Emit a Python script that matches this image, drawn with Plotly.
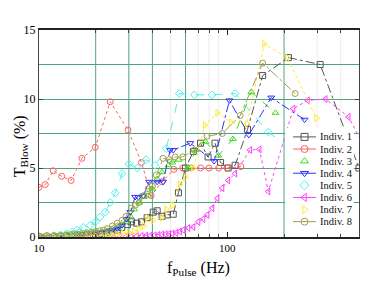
import plotly.graph_objects as go

# ---------------- data ----------------
series_names = ["Indiv. 1", "Indiv. 2", "Indiv. 3", "Indiv. 4",
                "Indiv. 5", "Indiv. 6", "Indiv. 7", "Indiv. 8"]

x1 = [10, 11, 12, 13, 14, 15, 16, 17, 18, 19, 20, 21.5, 23, 24.5, 26, 27.5, 29.5, 31, 33, 35,
      37.5, 40.4, 42.4, 45, 48, 51.6, 55, 60, 66, 72, 79, 86, 92, 101, 110, 128, 154, 211, 311, 500]
y1 = [0, 0, 0, 0.02, 0.05, 0.05, 0.1, 0.1, 0.15, 0.15, 0.2, 0.25, 0.3, 0.4, 0.5, 0.7, 0.9, 1.1, 1.0, 1.1,
      1.4, 1.8, 1.9, 1.5, 1.6, 1.65, 3.2, 5.0, 6.2, 6.8, 5.8, 6.8, 5.4, 5.0, 5.2, 7.8, 11.7, 13.0, 12.5, 5.0]

x2 = [10, 10.8, 11.9, 13.2, 14.8, 16.9, 19.9, 23.9, 29.7, 35, 39.4, 45, 52, 58, 64, 72, 80, 90, 100, 118]
y2 = [3.6, 3.8, 4.8, 4.4, 4.1, 5.7, 6.5, 9.8, 7.75, 5.4, 3.0, 4.0, 4.9, 5.0, 5.0, 5.0, 5.0, 5.0, 5.0, 5.1]

x3 = [10, 11, 12, 13, 14, 15, 16, 17, 18, 19, 20, 21.5, 23, 24.5, 26, 27.5, 29, 30.5, 32, 34, 36, 38,
      40, 42.4, 45, 48.6, 51, 55, 62, 68, 76.5, 89.7, 107, 134, 180]
y3 = [0.1, 0.1, 0.1, 0.12, 0.15, 0.15, 0.2, 0.2, 0.25, 0.3, 0.35, 0.4, 0.45, 0.55, 0.7, 0.9, 1.1, 1.5,
      2.0, 2.5, 2.9, 3.0, 3.5, 4.2, 4.7, 5.2, 5.4, 5.6, 5.0, 6.3, 6.9, 5.9, 7.1, 10.5, 9.0]

x4 = [10, 11, 12, 13, 14, 15, 16, 17, 18, 19, 20, 21.5, 23, 24.5, 26, 27.6, 29, 30.5, 32.4, 33.7, 35.8,
      38.4, 42.4, 45.6, 49.7, 51.6, 63.5, 85, 102.6, 130, 171, 257]
y4 = [0, 0, 0.02, 0.03, 0.05, 0.05, 0.08, 0.1, 0.12, 0.15, 0.2, 0.3, 0.4, 0.5, 0.6, 0.85, 1.3, 1.8, 2.9,
      2.9, 3.0, 4.0, 4.0, 4.0, 6.3, 6.3, 6.8, 5.5, 9.9, 7.4, 10.1, 8.5]

x5 = [10, 11, 12, 13, 14, 15, 15.9, 17.2, 18.7, 20, 21.1, 22.5, 23.9, 25.4, 27.6, 30, 33.3, 37, 41.3,
      47.4, 55.6, 66.9, 83, 110, 165, 208]
y5 = [0, 0.05, 0.1, 0.15, 0.25, 0.35, 0.5, 0.7, 0.85, 1.1, 1.45, 1.8, 2.5, 3.2, 4.6, 5.3, 5.0, 5.6, 5.2,
      6.4, 10.4, 10.3, 10.3, 10.4, 7.6, 6.6]

x6 = [25, 27, 29, 31, 33, 35, 37, 39, 41, 43, 45, 47, 49, 51, 53.5, 56, 58.3, 62, 65.9, 70.1, 74.5, 78.3,
      83.2, 88.5, 94, 101, 110, 132, 148, 165, 224, 267, 332, 440, 560]
y6 = [0, 0.02, 0.03, 0.05, 0.06, 0.08, 0.1, 0.1, 0.12, 0.15, 0.18, 0.2, 0.22, 0.25, 0.3, 0.4, 0.5, 0.65,
      0.72, 1.09, 1.3, 1.6, 2.1, 2.8, 3.55, 4.1, 4.6, 6.3, 6.35, 3.3, 9.3, 9.9, 10.0, 8.7, 6.0]

x7 = [10, 11, 12, 13, 14, 15, 16, 17, 18, 19, 20, 21.5, 23, 24.5, 26, 28, 30, 32, 34, 36, 37.6, 40.4,
      45, 47.5, 51, 56, 60, 66, 76, 88.6, 105, 127, 157, 208, 297]
y7 = [0, 0, 0, 0, 0, 0, 0.02, 0.03, 0.05, 0.05, 0.08, 0.1, 0.12, 0.15, 0.2, 0.25, 0.3, 0.4, 0.6, 0.8,
      1.4, 1.2, 1.4, 2.0, 2.3, 3.8, 4.3, 5.0, 8.1, 9.0, 8.3, 8.2, 14.0, 13.0, 8.6]

x8 = [10, 11, 12, 13, 14, 15, 16, 17, 18, 19, 20, 21, 22, 23, 24.5, 26, 27.6, 29, 30.9, 32.4, 34, 36,
      38, 40, 42, 45.6, 49, 52.8, 58, 66.7, 78, 94, 117, 154, 229]
y8 = [0.05, 0.1, 0.1, 0.1, 0.15, 0.2, 0.2, 0.25, 0.3, 0.35, 0.4, 0.45, 0.5, 0.6, 0.8, 1.0, 1.2, 1.5,
      2.1, 2.3, 2.5, 3.0, 3.5, 3.7, 4.5, 5.7, 5.6, 5.8, 5.8, 6.3, 7.3, 7.5, 8.8, 12.6, 10.4]

xs = [x1, x2, x3, x4, x5, x6, x7, x8]
ys = [y1, y2, y3, y4, y5, y6, y7, y8]

x_tick_vals = [10, 100]
x_tick_text = ["10", "100"]
x_minor_vals = [20, 30, 40, 50, 60, 70, 80, 90, 200, 300, 400]
green_grid_x = [20, 30, 40, 60, 200]
faint_grid_x = [50, 70, 80, 90, 300, 400]
y_tick_vals = [0, 5, 10, 15]

# ---------------- styles ----------------
colors = ["#555555", "#ff6060", "#40dd20", "#3030ff", "#50eeee", "#ff40ff", "#ffe830", "#a0a050"]
symbols = ["square-open", "circle-open", "triangle-up-open", "triangle-down-open",
           "diamond-open", "triangle-left-open", "triangle-right-open", "circle-open"]
dashes = ["dashdot", "dot", "dash", "dashdot", "dash", "dot", "dot", "dashdot"]
legend_line = [True, True, False, True, False, True, False, True]
GREEN = "#4fa383"
FONT = "Liberation Serif"

fig = go.Figure()

for i in range(8):
    fig.add_trace(go.Scatter(
        x=xs[i], y=ys[i], mode="lines+markers", name=series_names[i],
        line=dict(color=colors[i], width=1, dash=dashes[i]),
        marker=dict(symbol=symbols[i], size=6, color=colors[i], line=dict(width=1, color=colors[i])),
        xaxis="x", yaxis="y",
    ))

# vertical grid lines
for gx in faint_grid_x:
    fig.add_shape(type="line", xref="x", yref="y", x0=gx, x1=gx, y0=0, y1=15,
                  line=dict(color="#f2eaea", width=1), layer="below")
for gx in green_grid_x:
    fig.add_shape(type="line", xref="x", yref="y", x0=gx, x1=gx, y0=0, y1=15,
                  line=dict(color=GREEN, width=1), layer="below")

# custom legend in an overlapping subplot with white background
leg_y0 = 9
leg_dy = 12.1
for i in range(8):
    yy = leg_y0 + i * leg_dy
    if legend_line[i]:
        fig.add_trace(go.Scatter(x=[8, 31], y=[yy, yy], mode="lines",
                                 line=dict(color=colors[i], width=1),
                                 xaxis="x2", yaxis="y2", hoverinfo="skip"))
    fig.add_trace(go.Scatter(x=[19.5], y=[yy], mode="markers",
                             marker=dict(symbol=symbols[i], size=7, color=colors[i],
                                         line=dict(width=1, color=colors[i])),
                             xaxis="x2", yaxis="y2", hoverinfo="skip"))
    fig.add_annotation(x=33, y=yy, xref="x2", yref="y2", text=series_names[i],
                       showarrow=False, xanchor="left", yanchor="middle",
                       font=dict(family=FONT, size=10.5, color="#111"))

# axis titles
fig.add_annotation(x=-0.058, y=0.44, xref="paper", yref="paper",
                   text="T<sub>Blow</sub> (%)", textangle=-90, showarrow=False,
                   xanchor="center", yanchor="middle", borderpad=0,
                   font=dict(family=FONT, size=16, color="black"))
fig.add_annotation(x=0.497, y=-0.15, xref="paper", yref="paper",
                   text="f<sub>Pulse</sub> (Hz)", showarrow=False,
                   xanchor="center", yanchor="middle",
                   font=dict(family=FONT, size=16, color="black"))

# page body has an 8px margin, so the figure is sized to end at the window edge
fig.update_layout(
    width=366, height=280,
    margin=dict(l=31, r=15, t=22, b=51, autoexpand=False),
    paper_bgcolor="white", plot_bgcolor="white",
    showlegend=False,
    font=dict(family=FONT, color="black"),
    xaxis=dict(
        type="log", range=[1, 2.699], automargin=False,
        tickvals=x_tick_vals, ticktext=x_tick_text,
        ticks="inside", ticklen=5, tickcolor="#222",
        showgrid=False, zeroline=False,
        showline=True, linecolor="#222", linewidth=1.5, mirror="allticks",
        tickfont=dict(family=FONT, size=11),
        minor=dict(tickvals=x_minor_vals, ticks="inside", ticklen=3, tickcolor="#444",
                   showgrid=False),
    ),
    yaxis=dict(
        range=[0, 15], tickvals=y_tick_vals, automargin=False,
        ticks="inside", ticklen=4, tickcolor="#444",
        showgrid=True, gridcolor=GREEN, gridwidth=1, zeroline=False,
        showline=True, linecolor="#444", linewidth=1, mirror="allticks",
        tickfont=dict(family=FONT, size=12),
        minor=dict(dtick=2.5, showgrid=True, gridcolor=GREEN, ticks=""),
    ),
    xaxis2=dict(domain=[0.769, 0.984], range=[0, 69], visible=False, anchor="y2"),
    yaxis2=dict(domain=[0.034, 0.527], range=[102, 0], visible=False, anchor="x2"),
)

fig.write_html("out.html")
